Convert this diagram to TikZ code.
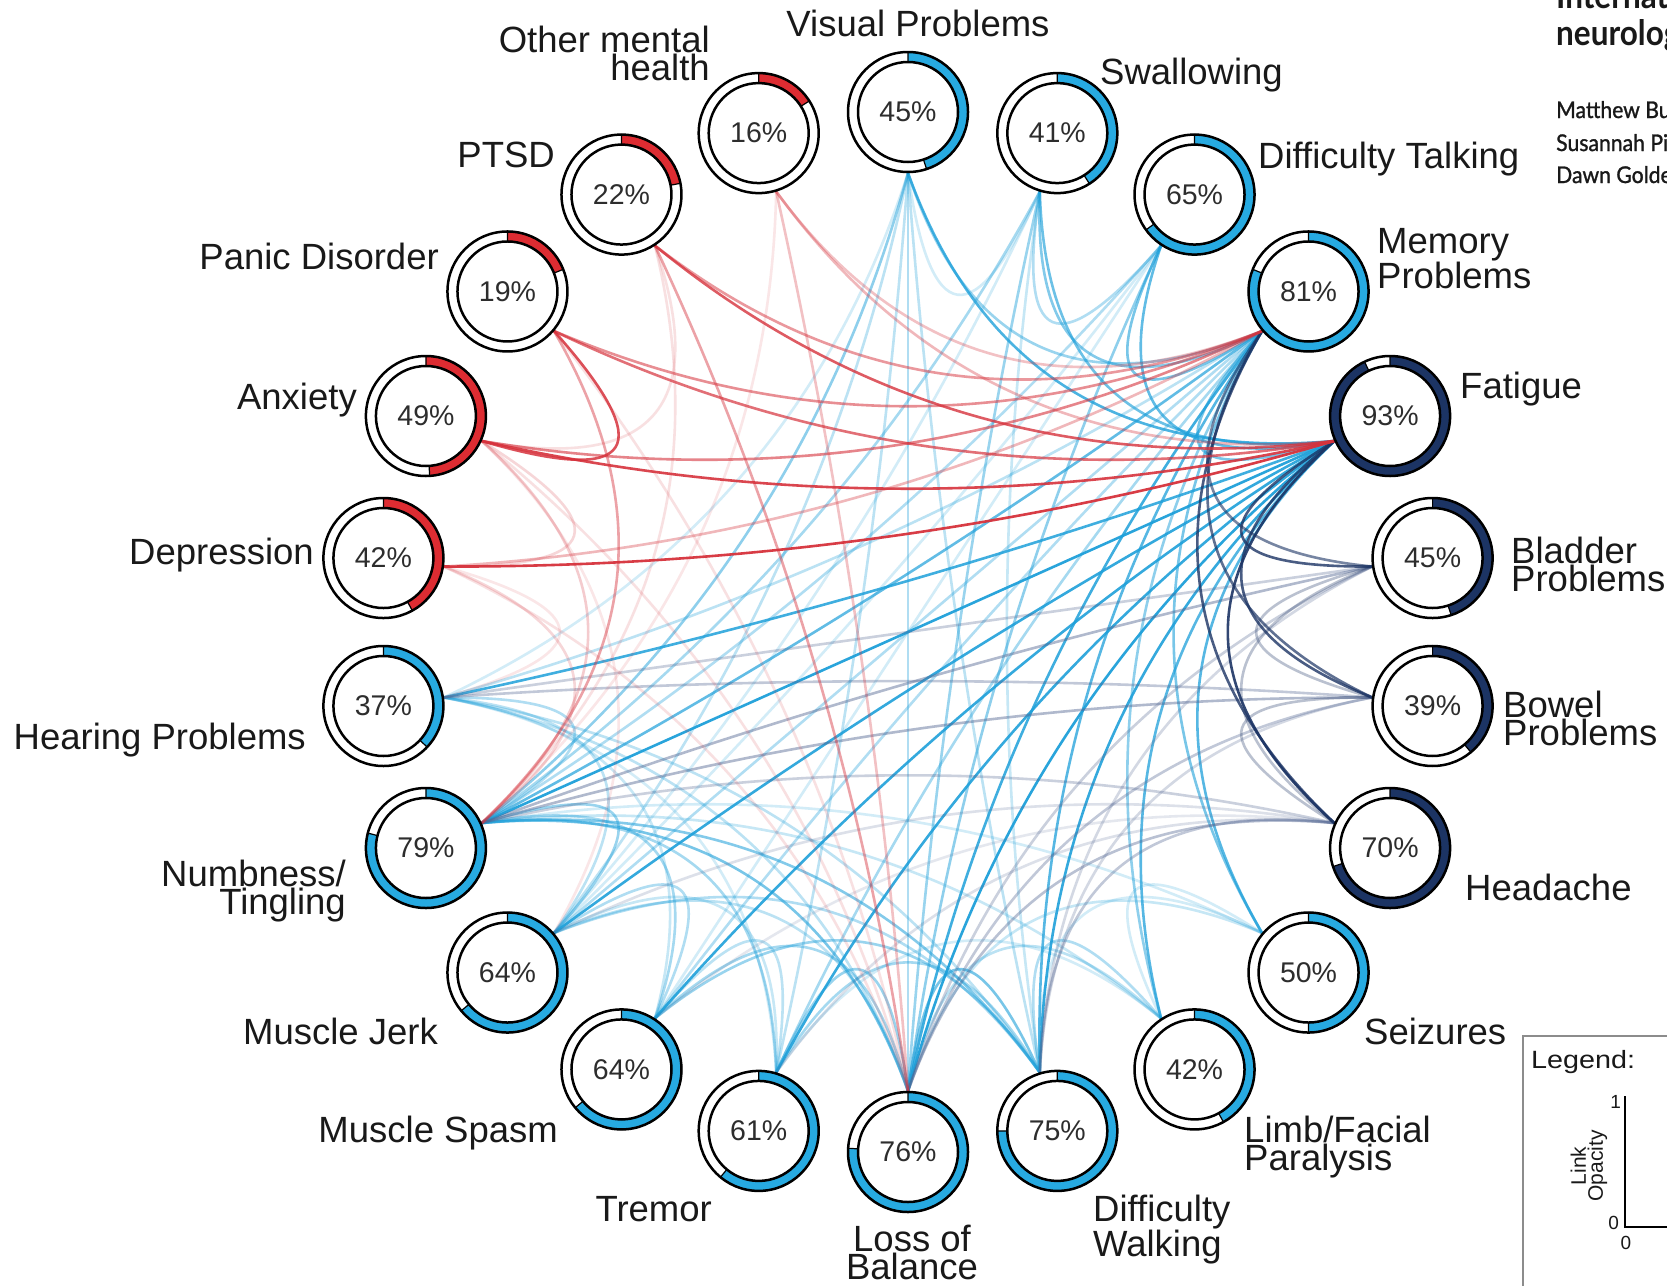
\documentclass[tikz,border=0pt]{standalone}
\usepackage{graphicx}
\usepackage{fontspec}
\setmainfont{Liberation Sans}
\newfontfamily\latofont{Lato}[FakeStretch=0.9]
\newfontfamily\latoauthor{Lato}[FakeStretch=0.92, FakeBold=1.2]
\usetikzlibrary{calc}

\definecolor{ringblue}{RGB}{39,170,225}
\definecolor{ringred}{RGB}{221,44,50}
\definecolor{ringnavy}{RGB}{28,52,100}
\definecolor{linkred}{RGB}{214,50,60}
\definecolor{linkblue}{RGB}{30,160,218}
\definecolor{linksteel}{RGB}{80,100,145}
\definecolor{labeltext}{RGB}{25,25,25}
\definecolor{pcttext}{RGB}{45,45,45}
\definecolor{legendframe}{RGB}{140,140,140}

\pgfdeclarelayer{bg}
\pgfdeclarelayer{links}
\pgfsetlayers{bg,links,main}

\tikzset{
  ringnode/.style={circle, minimum size=120pt, inner sep=0pt, fill=white,
    font=\fontsize{28.5}{30}\selectfont, text=pcttext},
  ringline/.style={draw=black, line width=2.5pt},
  lab/.style={font=\fontsize{36.5}{28}\selectfont, text=labeltext, inner sep=0pt},
  chord/.style={line width=2.6pt},
  lr/.style={chord, draw=linkred},
  lb/.style={chord, draw=linkblue},
  ln/.style={chord, draw=ringnavy},
  ls/.style={chord, draw=linksteel},
  titlefont/.style={font=\latofont\bfseries\fontsize{35}{36}\selectfont, text=labeltext, inner sep=0pt},
  authorfont/.style={font=\latoauthor\fontsize{23}{26}\selectfont, text=labeltext, inner sep=0pt},
  legendtext/.style={inner sep=0pt, text=labeltext},
}

% symptom ring: name, position index (of 22), percentage, colour
\newcommand\symring[4]{%
  \node[ringnode] (#1) at ({908+530*sin(#2*360/22)},{632-520*cos(#2*360/22)}) {#3\%};
  \path[fill=#4, draw=black, line width=1.2pt]
    ($(#1)+(-90:60)$) arc[start angle=-90, delta angle={3.6*#3}, radius=60]
    -- ($(#1)+({-90+3.6*#3}:50)$) arc[start angle={-90+3.6*#3}, delta angle={-3.6*#3}, radius=50]
    -- cycle;
  \draw[ringline] (#1) circle[radius=60];
  \draw[ringline] (#1) circle[radius=50];
}

% chord between two rings, bent halfway towards the centre
\newcommand\chordlink[4]{%
  \path ($(#1)!61pt!(O)$) coordinate (p) ($(#2)!61pt!(O)$) coordinate (q);
  \path ($(O)!0.5!($(p)!0.5!(q)$)$) coordinate (c);
  \draw[#3, draw opacity=#4] (p) .. controls ($(p)!0.6667!(c)$) and ($(q)!0.6667!(c)$) .. (q);
}

\begin{document}
\begin{tikzpicture}[x=1pt, y=-1pt]
\useasboundingbox (0,0) rectangle (1667,1285);
\begin{pgfonlayer}{bg}
  \fill[white] (0,0) rectangle (1667,1285);
\end{pgfonlayer}
\clip (0,0) rectangle (1667,1285);

\coordinate (O) at (908,632);

% rings
\symring{vis}{0}{45}{ringblue}
\symring{swa}{1}{41}{ringblue}
\symring{tal}{2}{65}{ringblue}
\symring{mem}{3}{81}{ringblue}
\symring{fat}{4}{93}{ringnavy}
\symring{bla}{5}{45}{ringnavy}
\symring{bow}{6}{39}{ringnavy}
\symring{hea}{7}{70}{ringnavy}
\symring{sei}{8}{50}{ringblue}
\symring{lim}{9}{42}{ringblue}
\symring{wal}{10}{75}{ringblue}
\symring{bal}{11}{76}{ringblue}
\symring{tre}{12}{61}{ringblue}
\symring{spa}{13}{64}{ringblue}
\symring{jer}{14}{64}{ringblue}
\symring{num}{15}{79}{ringblue}
\symring{hear}{16}{37}{ringblue}
\symring{dep}{17}{42}{ringred}
\symring{anx}{18}{49}{ringred}
\symring{pan}{19}{19}{ringred}
\symring{pts}{20}{22}{ringred}
\symring{oth}{21}{16}{ringred}

% chords
\begin{pgfonlayer}{links}
\foreach \a/\b/\o in {
  vis/hear/0.2, vis/swa/0.2, swa/jer/0.2, tal/jer/0.2, tal/spa/0.2, hear/tre/0.2,
  sei/lim/0.2, tre/lim/0.2, num/sei/0.2, wal/sei/0.2, num/lim/0.25, bal/sei/0.25,
  wal/swa/0.25, hear/spa/0.25, jer/tre/0.25,
  mem/hear/0.3, bal/jer/0.3, bal/hear/0.3, bal/lim/0.3, wal/hear/0.3, wal/vis/0.3,
  vis/jer/0.3, vis/tre/0.3, hear/jer/0.3, spa/tre/0.3,
  mem/spa/0.35, mem/jer/0.35, num/hear/0.35, num/tal/0.35, bal/vis/0.35, wal/jer/0.35,
  wal/lim/0.35, swa/tal/0.35, jer/spa/0.35,
  mem/tre/0.4, num/tre/0.4, num/spa/0.4, num/swa/0.4, bal/spa/0.4, wal/tre/0.4,
  mem/vis/0.45, num/jer/0.45, bal/swa/0.45, bal/tre/0.45, wal/spa/0.45,
  mem/lim/0.5, num/vis/0.5, bal/tal/0.5,
  mem/swa/0.55, num/wal/0.55,
  mem/tal/0.6, mem/sei/0.6, num/bal/0.6, bal/wal/0.6, fat/mem/0.6,
  fat/swa/0.65, fat/tal/0.7, mem/num/0.7,
  fat/lim/0.75, fat/sei/0.75, mem/wal/0.75,
  fat/vis/0.8, fat/hear/0.85, mem/bal/0.85,
  fat/jer/0.9, fat/spa/0.9, fat/tre/0.9, fat/wal/0.9,
  fat/num/0.95, fat/bal/0.95}
  {\chordlink{\a}{\b}{lb}{\o}}
\foreach \a/\b/\o in {
  hea/spa/0.15, hea/jer/0.2, hea/tre/0.2, bla/wal/0.25, bow/wal/0.25,
  bla/hear/0.3, hea/num/0.3, bla/bal/0.3, bow/hear/0.35, bow/bal/0.35,
  hea/wal/0.35, hea/bal/0.4, bla/num/0.45, bow/num/0.45}
  {\chordlink{\a}{\b}{ls}{\o}}
\foreach \a/\b/\o in {
  hea/bla/0.3, hea/bow/0.3, bla/bow/0.3, mem/bla/0.6, mem/bow/0.7,
  mem/hea/0.8, fat/bla/0.8, fat/bow/0.8, fat/hea/0.9}
  {\chordlink{\a}{\b}{ln}{\o}}
\foreach \a/\b/\o in {
  oth/num/0.12, dep/hear/0.12, anx/jer/0.12, anx/bal/0.15, dep/bal/0.15,
  pts/num/0.15, pan/bal/0.15, pts/anx/0.15, dep/num/0.2, anx/dep/0.2,
  anx/num/0.25, oth/mem/0.3, oth/bal/0.3, oth/fat/0.35, dep/mem/0.35,
  pan/num/0.45, pts/bal/0.45, pts/mem/0.5, pan/mem/0.55, anx/mem/0.6,
  pan/fat/0.7, pts/fat/0.8, anx/pan/0.85, anx/fat/0.9, dep/fat/0.95}
  {\chordlink{\a}{\b}{lr}{\o}}
\end{pgfonlayer}

% symptom labels
\node[lab, anchor=base] (l-vis) at (918,36) {Visual Problems};
\node[lab, anchor=base west] (l-swa) at (1100,84) {Swallowing};
\node[lab, anchor=base west] (l-tal) at (1258,168) {Difficulty Talking};
\node[lab, anchor=north west, align=left] (l-mem) at (1377,228) {Memory\\Problems};
\node[lab, anchor=base west] (l-fat) at (1460,398) {Fatigue};
\node[lab, anchor=north west, align=left] (l-bla) at (1511,537) {Bladder\\Problems};
\node[lab, anchor=north west, align=left] (l-bow) at (1503,691) {Bowel\\Problems};
\node[lab, anchor=base west] (l-hea) at (1465,900) {Headache};
\node[lab, anchor=base west] (l-sei) at (1364,1044) {Seizures};
\node[lab, anchor=north west, align=left] (l-lim) at (1244,1116) {Limb/Facial\\Paralysis};
\node[lab, anchor=north west, align=left] (l-wal) at (1093,1195) {Difficulty\\Walking};
\node[lab, anchor=north, align=center] (l-bal) at (912,1225) {Loss of\\Balance};
\node[lab, anchor=base east] (l-tre) at (712,1221) {Tremor};
\node[lab, anchor=base east] (l-spa) at (558,1142) {Muscle Spasm};
\node[lab, anchor=base east] (l-jer) at (438,1044) {Muscle Jerk};
\node[lab, anchor=north east, align=right] (l-num) at (346,860) {Numbness/\\Tingling};
\node[lab, anchor=base east] (l-hear) at (306,749) {Hearing Problems};
\node[lab, anchor=base east] (l-dep) at (314,564) {Depression};
\node[lab, anchor=base east] (l-anx) at (357,409) {Anxiety};
\node[lab, anchor=base east] (l-pan) at (439,269) {Panic Disorder};
\node[lab, anchor=base east] (l-pts) at (555,167) {PTSD};
\node[lab, anchor=north east, align=right] (l-oth) at (710,26) {Other mental\\health};

% heading and authors at the top right
\node[titlefont, anchor=base west] (t1) at (1556,8) {Internat};
\node[titlefont, anchor=base west] (t2) at (1556,45) {neurolog};
\node[authorfont, anchor=base west] (a1) at (1556,118) {Matthew Bu};
\node[authorfont, anchor=base west] (a2) at (1556,151) {Susannah Pi};
\node[authorfont, anchor=base west] (a3) at (1556,183) {Dawn Golde};

% legend
\draw[draw=legendframe, line width=1.5pt] (1523,1036) rectangle (1700,1300);
\node[legendtext, anchor=base west, font=\fontsize{25}{27}\selectfont] (leg) at (1531,1068) {\scalebox{1.15}[1]{Legend:}};
\coordinate (ax-top) at (1625,1096);
\coordinate (ax-org) at (1625,1227);
\coordinate (ax-end) at (1700,1227);
\draw[line width=1.8pt] (ax-top) -- (ax-org) -- (ax-end);
\node[legendtext, anchor=east, font=\fontsize{19}{21}\selectfont] (y1) at (1621,1102) {1};
\node[legendtext, anchor=east, font=\fontsize{19}{21}\selectfont] (y0) at (1619,1223) {0};
\node[legendtext, anchor=north, font=\fontsize{19}{21}\selectfont] (x0) at (1626,1236) {0};
\node[legendtext, rotate=90, align=center, font=\fontsize{21}{17}\selectfont] (opac) at (1589,1166) {Link\\Opacity};
\end{tikzpicture}
\end{document}
